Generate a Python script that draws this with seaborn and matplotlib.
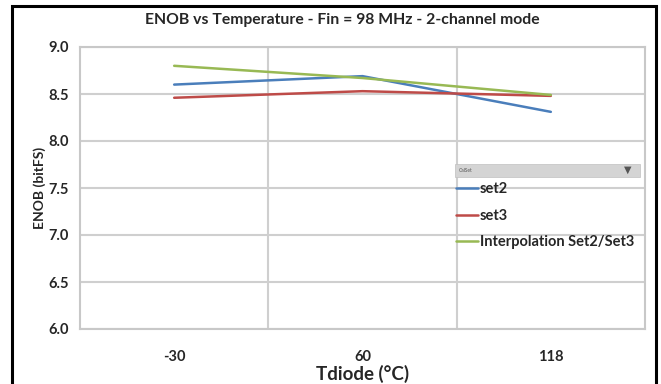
import matplotlib
matplotlib.use("Agg")
import matplotlib.pyplot as plt
import seaborn as sns
import pandas as pd
from matplotlib.patches import Rectangle
from matplotlib.lines import Line2D

categories = ["-30", "60", "118"]
set2 = [8.60, 8.69, 8.31]
set3 = [8.46, 8.53, 8.48]
interp = [8.80, 8.67, 8.49]
series_names = ["set2", "set3", "Interpolation Set2/Set3"]
colors = ["#4a7ebb", "#be4b48", "#98b954"]
yticks = [6.0, 6.5, 7.0, 7.5, 8.0, 8.5, 9.0]

rows = []
for name, vals in zip(series_names, [set2, set3, interp]):
    for c, v in zip(categories, vals):
        rows.append({"Tdiode": c, "ENOB": v, "CalSet": name})
df = pd.DataFrame(rows)

sns.set_style("white")
plt.rcParams["font.family"] = ["Lato", "DejaVu Sans"]

fig = plt.figure(figsize=(6.61, 3.84), dpi=100)
ax = fig.add_axes([80/661, 1-329/384, (645-80)/661, (329-47)/384])

sns.lineplot(data=df, x="Tdiode", y="ENOB", hue="CalSet", palette=colors,
             linewidth=1.8, ax=ax, legend=False, sort=False)

ax.set_xlim(-0.5, 2.5)
ax.set_ylim(6.0, 9.0)
ax.set_yticks(yticks)
ax.set_yticklabels([f"{t:.1f}" for t in yticks], fontsize=10.5, fontweight="bold")
ax.set_xticks(range(len(categories)))
ax.set_xticklabels(categories, fontsize=10.5, fontweight="bold")
ax.set_xticks([-0.5, 0.5, 1.5, 2.5], minor=True)
ax.tick_params(axis="x", which="major", length=0, pad=15)
ax.tick_params(axis="x", which="minor", length=4, width=1.2, color="#c8c8c8")
ax.tick_params(axis="y", which="major", length=4, width=1.2, color="#c8c8c8", pad=4)
ax.grid(False)
for y in yticks:
    ax.axhline(y, color="#cfcfcf", lw=1.5, zorder=0)
for x in [0.5, 1.5]:
    ax.axvline(x, color="#cfcfcf", lw=1.5, zorder=0)
for s in ax.spines.values():
    s.set_color("#c8c8c8")
    s.set_linewidth(1.5)

ax.set_xlabel("Tdiode (°C)", fontsize=13.5, fontweight="bold", labelpad=1)
ax.set_ylabel("ENOB (bitFS)", fontsize=10, fontweight="bold", labelpad=2)
fig.text(342/661, 1-20/384, "ENOB vs Temperature - Fin = 98 MHz - 2-channel mode",
         ha="center", va="center", fontsize=11.3, fontweight="bold")

# legend header bar
fig.patches.append(Rectangle((455/661, 1-177/384), (640-455)/661, 13/384,
                             transform=fig.transFigure, facecolor="#d4d4d4",
                             edgecolor="#c0c0c0", lw=0.5))
fig.text(459/661, 1-170.5/384, "CalSet", fontsize=3.5, va="center", color="#555555")
fig.text(628/661, 1-170.5/384, "▼", fontsize=7, va="center", ha="center", color="#555555")
handles = [Line2D([0], [0], color=c, lw=1.8) for c in colors]
leg = fig.legend(handles, series_names, loc="upper left",
                 bbox_to_anchor=(452/661, 1-178/384), frameon=False,
                 handlelength=1.5, handletextpad=0.1, labelspacing=0.85,
                 prop={"weight": "bold", "size": 10.5}, borderaxespad=0, borderpad=0.3)

# outer frame
fig.patches.append(Rectangle((12/661, -0.1), (656-12)/661, 1.1 - 6/384,
                             transform=fig.transFigure, fill=False,
                             edgecolor="black", lw=2.2))

fig.savefig("out.png", dpi=100)
